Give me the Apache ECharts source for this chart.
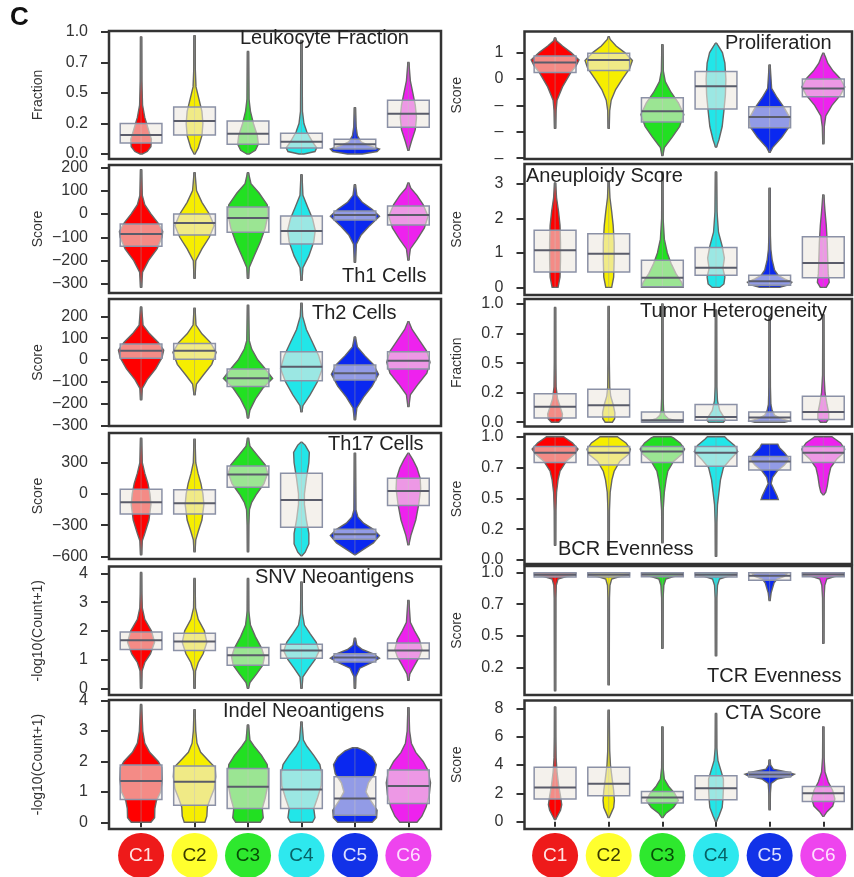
<!DOCTYPE html>
<html>
<head>
<meta charset="utf-8">
<script src="https://cdn.jsdelivr.net/npm/echarts@6/dist/echarts.min.js"></script>
<style>
  html, body { margin: 0; padding: 0; background: #fff; }
  #chart { width: 854px; height: 877px; }
</style>
</head>
<body>
<div id="chart"></div>
<script>
var clusters = ['C1', 'C2', 'C3', 'C4', 'C5', 'C6'];

// tick values + printed labels (R truncates 0.25 -> 0.2, 0.75 -> 0.7)
var fractionTicks = [0, 0.25, 0.5, 0.75, 1];
var fractionLabels = ['0.0', '0.2', '0.5', '0.7', '1.0'];
var th1Ticks = [-300, -200, -100, 0, 100, 200];
var th1Labels = ['\u2212300', '\u2212200', '\u2212100', '0', '100', '200'];
var th17Ticks = [-600, -300, 0, 300];
var th17Labels = ['\u2212600', '\u2212300', '0', '300'];
var countTicks = [0, 1, 2, 3, 4];
var countLabels = ['0', '1', '2', '3', '4'];
var prolifTicks = [-3, -2, -1, 0, 1];
var prolifLabels = ['\u2013', '\u2013', '\u2013', '0', '1'];
var aneuTicks = [0, 1, 2, 3];
var aneuLabels = ['0', '1', '2', '3'];
var tcrTicks = [0.25, 0.5, 0.75, 1];
var tcrLabels = ['0.2', '0.5', '0.7', '1.0'];
var ctaTicks = [0, 2, 4, 6, 8];
var ctaLabels = ['0', '2', '4', '6', '8'];

// violin outlines: [value, relative half width], bottom -> top
// boxes: [q1, median, q3]
var leukViolin = [
  [[0,0.05],[0.02,0.25],[0.06,0.4],[0.12,0.42],[0.2,0.3],[0.3,0.15],[0.4,0.06],[0.6,0.03],[0.96,0.02]],
  [[0,0.02],[0.05,0.15],[0.15,0.3],[0.25,0.34],[0.35,0.3],[0.45,0.18],[0.55,0.06],[0.7,0.03],[0.97,0.02]],
  [[0,0.05],[0.03,0.3],[0.08,0.42],[0.15,0.38],[0.25,0.22],[0.35,0.1],[0.45,0.04],[0.84,0.02]],
  [[0,0.1],[0.02,0.55],[0.05,0.62],[0.1,0.45],[0.18,0.22],[0.25,0.1],[0.35,0.04],[0.93,0.02]],
  [[0,0.3],[0.02,0.9],[0.04,1.0],[0.07,0.55],[0.1,0.25],[0.15,0.1],[0.22,0.05],[0.38,0.02]],
  [[0.03,0.02],[0.1,0.12],[0.2,0.28],[0.3,0.33],[0.4,0.28],[0.5,0.18],[0.6,0.08],[0.75,0.02]]
];
var leukBox = [[0.09,0.155,0.25],[0.156,0.27,0.385],[0.08,0.165,0.27],[0.05,0.1,0.17],[0.04,0.08,0.12],[0.22,0.33,0.44]];

var th1Violin = [
  [[-315,0.02],[-250,0.06],[-200,0.3],[-150,0.65],[-100,0.85],[-75,0.88],[-40,0.7],[0,0.4],[40,0.15],[80,0.05],[190,0.02]],
  [[-276,0.02],[-200,0.05],[-150,0.3],[-100,0.6],[-50,0.8],[0,0.6],[50,0.3],[100,0.08],[177,0.02]],
  [[-276,0.02],[-230,0.05],[-180,0.25],[-120,0.5],[-60,0.7],[0,0.82],[40,0.78],[90,0.45],[130,0.12],[177,0.02]],
  [[-284,0.02],[-230,0.06],[-180,0.3],[-120,0.5],[-70,0.56],[-20,0.45],[30,0.25],[80,0.06],[168,0.02]],
  [[-207,0.02],[-130,0.06],[-90,0.25],[-50,0.6],[-10,1.0],[20,0.7],[50,0.3],[80,0.08],[125,0.02]],
  [[-198,0.02],[-150,0.08],[-110,0.35],[-60,0.65],[-10,0.8],[40,0.6],[80,0.35],[110,0.1],[133,0.02]]
];
var th1Box = [[-138,-86,-43],[-90,-39,0],[-78,-17,30],[-129,-73,-9],[-26,-4,13],[-47,-4,34]];

var th2Violin = [
  [[-183,0.02],[-130,0.05],[-90,0.25],[-40,0.6],[10,0.85],[45,0.92],[80,0.7],[120,0.35],[160,0.08],[243,0.02]],
  [[-160,0.02],[-110,0.08],[-70,0.35],[-20,0.7],[35,0.88],[80,0.65],[120,0.3],[160,0.06],[238,0.02]],
  [[-266,0.02],[-230,0.08],[-180,0.3],[-130,0.6],[-85,1.0],[-40,0.7],[0,0.4],[50,0.15],[90,0.05],[252,0.02]],
  [[-238,0.02],[-210,0.06],[-160,0.35],[-100,0.65],[-40,0.85],[20,0.7],[80,0.45],[140,0.2],[200,0.05],[261,0.02]],
  [[-275,0.02],[-220,0.08],[-170,0.35],[-120,0.7],[-65,0.96],[-20,0.75],[20,0.4],[60,0.1],[106,0.02]],
  [[-214,0.02],[-160,0.08],[-110,0.4],[-60,0.75],[-10,0.88],[40,0.75],[90,0.45],[140,0.15],[176,0.02]]
];
var th2Box = [[8,43,73],[3,43,76],[-122,-84,-41],[-95,-31,38],[-92,-61,-23],[-41,-3,38]];

var th17Violin = [
  [[-584,0.02],[-450,0.05],[-380,0.15],[-250,0.32],[-100,0.4],[0,0.36],[100,0.28],[200,0.15],[300,0.05],[536,0.02]],
  [[-555,0.02],[-440,0.05],[-360,0.15],[-250,0.3],[-100,0.38],[0,0.34],[100,0.26],[200,0.14],[300,0.05],[527,0.02]],
  [[-555,0.02],[-300,0.03],[-150,0.06],[-80,0.15],[0,0.35],[100,0.65],[200,0.8],[280,0.7],[380,0.35],[460,0.08],[536,0.02]],
  [[-594,0.02],[-560,0.15],[-480,0.3],[-380,0.3],[-250,0.2],[-100,0.12],[0,0.12],[150,0.2],[300,0.3],[400,0.32],[470,0.15],[498,0.02]],
  [[-584,0.02],[-540,0.3],[-470,0.75],[-400,1.0],[-340,0.75],[-280,0.35],[-220,0.12],[-150,0.04],[393,0.02]],
  [[-489,0.02],[-400,0.1],[-250,0.3],[-100,0.42],[50,0.5],[150,0.48],[250,0.35],[330,0.18],[393,0.02]]
];
var th17Box = [[-192,-80,45],[-192,-89,41],[64,188,268],[-319,-57,198],[-434,-386,-338],[-112,29,150]];

var snvViolin = [
  [[0,0.02],[0.6,0.04],[0.9,0.15],[1.2,0.38],[1.6,0.55],[2.0,0.42],[2.4,0.15],[2.8,0.05],[3.3,0.03],[4.03,0.02]],
  [[0,0.02],[0.6,0.04],[0.9,0.15],[1.2,0.35],[1.6,0.5],[2.0,0.4],[2.4,0.15],[2.8,0.04],[3.82,0.02]],
  [[0,0.02],[0.2,0.08],[0.5,0.35],[0.8,0.6],[1.1,0.67],[1.4,0.55],[1.8,0.3],[2.2,0.1],[2.7,0.03],[3.82,0.02]],
  [[0,0.02],[0.4,0.06],[0.7,0.3],[1.0,0.55],[1.3,0.72],[1.6,0.6],[1.9,0.35],[2.2,0.12],[2.6,0.04],[3.7,0.02]],
  [[0,0.02],[0.4,0.04],[0.7,0.2],[0.9,0.7],[1.05,1.0],[1.2,0.75],[1.35,0.3],[1.5,0.08],[1.74,0.02]],
  [[0.28,0.02],[0.5,0.06],[0.8,0.25],[1.1,0.45],[1.35,0.55],[1.7,0.45],[2.0,0.25],[2.3,0.08],[3.06,0.02]]
];
var snvBox = [[1.35,1.67,1.96],[1.32,1.63,1.92],[0.8,1.15,1.42],[1.05,1.32,1.53],[0.92,1.07,1.2],[1.03,1.32,1.58]];

var indelViolin = [
  [[0,0.4],[0.15,0.55],[0.45,0.56],[0.7,0.62],[1.0,0.8],[1.4,0.86],[1.8,0.84],[2.0,0.7],[2.3,0.35],[2.6,0.15],[3.0,0.07],[3.87,0.02]],
  [[0,0.42],[0.2,0.5],[0.5,0.52],[0.8,0.65],[1.1,0.8],[1.5,0.86],[1.8,0.84],[2.0,0.6],[2.3,0.25],[2.6,0.1],[3.0,0.05],[3.7,0.02]],
  [[0,0.5],[0.15,0.62],[0.45,0.58],[0.8,0.7],[1.2,0.8],[1.6,0.82],[1.9,0.78],[2.2,0.55],[2.5,0.25],[2.7,0.08],[3.2,0.02]],
  [[0,0.45],[0.15,0.55],[0.45,0.5],[0.8,0.65],[1.2,0.8],[1.6,0.82],[1.9,0.75],[2.2,0.5],[2.5,0.22],[2.7,0.08],[3.3,0.02]],
  [[0,0.7],[0.15,0.88],[0.4,0.9],[0.7,0.65],[1.0,0.45],[1.3,0.55],[1.6,0.8],[1.9,0.87],[2.15,0.7],[2.35,0.4],[2.45,0.1]],
  [[0,0.35],[0.2,0.55],[0.5,0.72],[0.9,0.85],[1.3,0.9],[1.7,0.8],[2.0,0.6],[2.3,0.3],[2.6,0.12],[3.0,0.05],[3.77,0.02]]
];
var indelBox = [[0.75,1.36,1.88],[0.56,1.33,1.85],[0.45,1.17,1.77],[0.45,1.08,1.72],[0.23,0.78,1.5],[0.62,1.19,1.72]];

var prolifViolin = [
  [[-1.87,0.02],[-1.2,0.04],[-0.8,0.08],[-0.3,0.3],[0.23,0.63],[0.5,0.85],[0.72,0.97],[1.0,0.65],[1.25,0.3],[1.45,0.06],[1.56,0.02]],
  [[-1.87,0.02],[-1.2,0.04],[-0.8,0.1],[-0.4,0.28],[0,0.55],[0.4,0.85],[0.7,0.96],[1.0,0.65],[1.25,0.3],[1.5,0.06],[1.6,0.02]],
  [[-2.9,0.02],[-2.6,0.08],[-2.2,0.4],[-1.8,0.7],[-1.35,0.87],[-0.9,0.65],[-0.5,0.35],[-0.1,0.12],[0.3,0.04],[1.3,0.02]],
  [[-2.58,0.02],[-2.3,0.12],[-1.8,0.25],[-1.2,0.32],[-0.6,0.38],[0,0.4],[0.6,0.36],[1.0,0.26],[1.25,0.1],[1.36,0.02]],
  [[-2.78,0.02],[-2.6,0.12],[-2.2,0.5],[-1.8,0.8],[-1.5,0.84],[-1.1,0.6],[-0.7,0.3],[-0.35,0.08],[0.53,0.02]],
  [[-2.45,0.02],[-1.8,0.04],[-1.4,0.1],[-1.0,0.35],[-0.6,0.7],[-0.3,0.87],[0,0.7],[0.3,0.4],[0.6,0.18],[0.85,0.08],[0.98,0.02]]
];
var prolifBox = [[0.25,0.63,0.87],[0.32,0.72,0.98],[-1.63,-1.22,-0.71],[-1.14,-0.27,0.28],[-1.85,-1.44,-1.05],[-0.67,-0.36,0]];

var aneuViolin = [
  [[0,0.12],[0.3,0.2],[0.8,0.22],[1.3,0.22],[1.8,0.2],[2.2,0.14],[2.6,0.06],[3.03,0.02]],
  [[0,0.12],[0.3,0.2],[0.8,0.22],[1.3,0.22],[1.8,0.18],[2.2,0.12],[2.6,0.05],[3.06,0.02]],
  [[0,0.84],[0.15,0.78],[0.4,0.55],[0.7,0.35],[1.0,0.2],[1.4,0.08],[2.0,0.03],[3.35,0.02]],
  [[0,0.15],[0.1,0.32],[0.3,0.36],[0.55,0.28],[0.85,0.34],[1.2,0.25],[1.6,0.1],[2.2,0.04],[3.35,0.02]],
  [[0,0.4],[0.08,0.8],[0.15,0.9],[0.25,0.6],[0.35,0.35],[0.5,0.2],[0.8,0.1],[1.1,0.05],[1.5,0.03],[2.88,0.02]],
  [[0,0.12],[0.15,0.24],[0.4,0.2],[0.8,0.18],[1.3,0.16],[1.8,0.12],[2.2,0.07],[2.68,0.02]]
];
var aneuBox = [[0.45,1.08,1.66],[0.45,0.98,1.56],[0.02,0.28,0.79],[0.35,0.57,1.16],[0.06,0.18,0.35],[0.28,0.71,1.47]];

var heteroViolin = [
  [[0,0.15],[0.03,0.28],[0.07,0.3],[0.12,0.22],[0.2,0.1],[0.3,0.04],[0.5,0.025],[0.97,0.02]],
  [[0,0.15],[0.03,0.24],[0.08,0.25],[0.15,0.18],[0.22,0.08],[0.3,0.04],[0.5,0.025],[0.98,0.02]],
  [[0,0.85],[0.01,0.6],[0.03,0.25],[0.06,0.1],[0.1,0.05],[0.2,0.03],[1.0,0.02]],
  [[0,0.3],[0.02,0.38],[0.05,0.3],[0.1,0.15],[0.18,0.06],[0.3,0.03],[0.95,0.02]],
  [[0,0.6],[0.01,0.8],[0.03,0.45],[0.06,0.2],[0.1,0.1],[0.15,0.05],[0.3,0.03],[0.89,0.02]],
  [[0,0.12],[0.03,0.22],[0.08,0.22],[0.15,0.15],[0.25,0.07],[0.4,0.03],[0.91,0.02]]
];
var heteroBox = [[0.036,0.13,0.24],[0.045,0.144,0.28],[0.002,0.017,0.087],[0.017,0.045,0.15],[0.008,0.04,0.087],[0.023,0.087,0.22]];

var bcrViolin = [
  [[0.12,0.02],[0.4,0.03],[0.55,0.06],[0.65,0.12],[0.72,0.2],[0.8,0.45],[0.86,0.8],[0.9,0.93],[0.95,0.7],[0.99,0.42],[1.0,0.35]],
  [[0.04,0.02],[0.4,0.03],[0.55,0.06],[0.65,0.13],[0.72,0.22],[0.8,0.45],[0.86,0.82],[0.9,0.88],[0.95,0.7],[0.99,0.42],[1.0,0.35]],
  [[0.14,0.02],[0.4,0.03],[0.55,0.08],[0.65,0.15],[0.72,0.22],[0.8,0.45],[0.86,0.8],[0.9,0.9],[0.95,0.72],[0.99,0.45],[1.0,0.35]],
  [[0.03,0.02],[0.3,0.03],[0.45,0.06],[0.55,0.12],[0.65,0.18],[0.75,0.3],[0.82,0.6],[0.88,0.88],[0.93,0.75],[0.98,0.45],[1.0,0.35]],
  [[0.49,0.35],[0.52,0.3],[0.57,0.18],[0.62,0.06],[0.67,0.12],[0.72,0.3],[0.77,0.6],[0.82,0.8],[0.87,0.6],[0.91,0.4],[0.94,0.33]],
  [[0.53,0.02],[0.55,0.1],[0.6,0.16],[0.68,0.22],[0.75,0.3],[0.82,0.55],[0.87,0.82],[0.9,0.87],[0.95,0.7],[0.99,0.42],[1.0,0.35]]
];
var bcrBox = [[0.79,0.87,0.92],[0.77,0.87,0.92],[0.79,0.88,0.92],[0.76,0.87,0.92],[0.73,0.8,0.84],[0.79,0.87,0.92]];

var tcrViolin = [
  [[0.064,0.02],[0.8,0.03],[0.9,0.05],[0.95,0.12],[0.97,0.45],[0.98,0.84],[0.995,0.84],[1.0,0.6]],
  [[0.11,0.02],[0.8,0.03],[0.9,0.05],[0.95,0.12],[0.97,0.45],[0.98,0.84],[0.995,0.84],[1.0,0.6]],
  [[0.4,0.02],[0.8,0.03],[0.9,0.06],[0.95,0.14],[0.97,0.45],[0.98,0.84],[0.995,0.84],[1.0,0.6]],
  [[0.34,0.02],[0.8,0.03],[0.9,0.06],[0.95,0.14],[0.97,0.45],[0.98,0.84],[0.995,0.84],[1.0,0.6]],
  [[0.78,0.02],[0.84,0.06],[0.88,0.12],[0.92,0.18],[0.95,0.3],[0.97,0.6],[0.99,0.7],[1.0,0.5]],
  [[0.44,0.02],[0.8,0.03],[0.9,0.06],[0.95,0.14],[0.97,0.45],[0.98,0.84],[0.995,0.84],[1.0,0.6]]
];
var tcrBox = [[0.966,0.984,1.0],[0.966,0.984,1.0],[0.968,0.985,1.0],[0.966,0.984,1.0],[0.94,0.976,1.0],[0.968,0.985,1.0]];

var ctaViolin = [
  [[0.14,0.02],[0.4,0.1],[0.8,0.22],[1.2,0.27],[1.8,0.22],[2.5,0.15],[3.5,0.08],[4.5,0.04],[6,0.025],[8.09,0.02]],
  [[0.28,0.02],[0.6,0.1],[1.0,0.2],[1.5,0.23],[2.2,0.2],[3.0,0.14],[4.0,0.07],[5,0.04],[7.86,0.02]],
  [[0.28,0.02],[0.6,0.15],[1.0,0.45],[1.5,0.65],[2.0,0.5],[2.5,0.25],[3.0,0.08],[3.8,0.03],[6.69,0.02]],
  [[0,0.02],[0.4,0.12],[1.0,0.25],[1.6,0.28],[2.3,0.3],[3.0,0.3],[3.6,0.2],[4.3,0.08],[5.2,0.03],[7.63,0.02]],
  [[0.84,0.02],[2.0,0.03],[2.7,0.06],[3.0,0.3],[3.2,0.85],[3.35,1.0],[3.5,0.7],[3.7,0.15],[4.0,0.04],[4.35,0.02]],
  [[0.37,0.02],[0.7,0.15],[1.1,0.38],[1.6,0.47],[2.2,0.38],[2.8,0.2],[3.5,0.07],[4.5,0.03],[6.69,0.02]]
];
var ctaBox = [[1.59,2.41,3.84],[1.82,2.67,3.84],[1.31,1.71,2.13],[1.54,2.36,3.23],[3.15,3.32,3.5],[1.42,2.01,2.48]];

// ---- styling / layout ----
var FONT = 'Liberation Sans, Arial, Helvetica, sans-serif';
var violinColors = ['#ff0000', '#f6ee00', '#22e022', '#22e6e8', '#0a28f0', '#ee22ee'];
var circleColors = ['#ee1a1a', '#ffff2e', '#2ee82e', '#2ee8ee', '#1232e8', '#ee44ee'];
var circleText = ['#ffe4e4', '#3a3a00', '#064d06', '#076266', '#dde0ff', '#ffe0ff'];
var VW = 0.46;   // violin half width (x units) for relative width 1
var BW = 0.39;   // box half width

var cols = [
  { left: 109, width: 332, xmin: 0.40, xmax: 6.61, gap: 64 },
  { left: 524.5, width: 327.5, xmin: 0.43, xmax: 6.535, gap: 60 }
];

var panels = [
  { col: 0, top: 31, bottom: 159, min: -0.041, max: 1.008, name: 'Fraction', title: 'Leukocyte Fraction', tx: 240, ty: 28, violin: leukViolin, box: leukBox, ticks: fractionTicks, labels: fractionLabels },
  { col: 0, top: 165, bottom: 293, min: -339, max: 210, name: 'Score', title: 'Th1 Cells', tx: 342, ty: 266, violin: th1Violin, box: th1Box, ticks: th1Ticks, labels: th1Labels },
  { col: 0, top: 299, bottom: 426, min: -303, max: 280, name: 'Score', title: 'Th2 Cells', tx: 312, ty: 303, violin: th2Violin, box: th2Box, ticks: th1Ticks, labels: th1Labels },
  { col: 0, top: 433, bottom: 559, min: -625, max: 586, name: 'Score', title: 'Th17 Cells', tx: 328, ty: 434, violin: th17Violin, box: th17Box, ticks: th17Ticks, labels: th17Labels },
  { col: 0, top: 566.5, bottom: 695, min: -0.233, max: 4.24, name: '-log10(Count+1)', title: 'SNV Neoantigens', tx: 255, ty: 567, violin: snvViolin, box: snvBox, ticks: countTicks, labels: countLabels },
  { col: 0, top: 700, bottom: 829, min: -0.22, max: 4.02, name: '-log10(Count+1)', title: 'Indel Neoantigens', tx: 223, ty: 701, violin: indelViolin, box: indelBox, ticks: countTicks, labels: countLabels, axis: true },
  { col: 1, top: 31.5, bottom: 159, min: -3.03, max: 1.8, name: 'Score', title: 'Proliferation', tx: 725, ty: 33, violin: prolifViolin, box: prolifBox, ticks: prolifTicks, labels: prolifLabels },
  { col: 1, top: 164, bottom: 295, min: -0.22, max: 3.58, name: 'Score', title: 'Aneuploidy Score', tx: 526, ty: 166, violin: aneuViolin, box: aneuBox, ticks: aneuTicks, labels: aneuLabels },
  { col: 1, top: 299, bottom: 426.5, min: -0.036, max: 1.042, name: 'Fraction', title: 'Tumor Heterogeneity', tx: 640, ty: 301, violin: heteroViolin, box: heteroBox, ticks: fractionTicks, labels: fractionLabels },
  { col: 1, top: 434, bottom: 564, min: -0.032, max: 1.022, name: 'Score', title: 'BCR Evenness', tx: 558, ty: 539, violin: bcrViolin, box: bcrBox, ticks: fractionTicks, labels: fractionLabels },
  { col: 1, top: 566, bottom: 695, min: 0.03, max: 1.053, name: 'Score', title: 'TCR Evenness', tx: 707, ty: 666, violin: tcrViolin, box: tcrBox, ticks: tcrTicks, labels: tcrLabels },
  { col: 1, top: 700.5, bottom: 829, min: -0.52, max: 8.55, name: 'Score', title: 'CTA Score', tx: 725, ty: 703, violin: ctaViolin, box: ctaBox, ticks: ctaTicks, labels: ctaLabels, axis: true }
];

function violinRenderer(violins) {
  return function (params, api) {
    var i = params.dataIndex;
    var x = api.value(0);
    var prof = violins[i];
    var pts = [], k;
    for (k = 0; k < prof.length; k++) pts.push(api.coord([x - prof[k][1] * VW, prof[k][0]]));
    for (k = prof.length - 1; k >= 0; k--) pts.push(api.coord([x + prof[k][1] * VW, prof[k][0]]));
    var lo = api.coord([x, prof[0][0]]);
    var hi = api.coord([x, prof[prof.length - 1][0]]);
    var bTop = api.coord([x - BW, api.value(3)]);
    var bBot = api.coord([x + BW, api.value(1)]);
    var mL = api.coord([x - BW, api.value(2)]);
    var mR = api.coord([x + BW, api.value(2)]);
    return {
      type: 'group',
      children: [
        { type: 'line', shape: { x1: lo[0], y1: lo[1], x2: hi[0], y2: hi[1] }, style: { stroke: '#636363', lineWidth: 2.6 } },
        { type: 'polygon', shape: { points: pts }, style: { fill: violinColors[i], stroke: '#666', lineWidth: 1.4 } },
        { type: 'line', shape: { x1: lo[0], y1: lo[1], x2: hi[0], y2: hi[1] }, style: { stroke: 'rgba(150,150,150,0.5)', lineWidth: 1 } },
        { type: 'rect', shape: { x: bTop[0], y: bTop[1], width: bBot[0] - bTop[0], height: bBot[1] - bTop[1] },
          style: { fill: 'rgba(236,232,224,0.6)', stroke: '#8b91a6', lineWidth: 1.5 } },
        { type: 'line', shape: { x1: mL[0], y1: mL[1], x2: mR[0], y2: mR[1] }, style: { stroke: '#5a5c6a', lineWidth: 2 } }
      ]
    };
  };
}

var circleRich = {};
clusters.forEach(function (c, i) {
  circleRich['c' + i] = {
    backgroundColor: circleColors[i], color: circleText[i], width: 46, height: 45, lineHeight: 45,
    borderRadius: 23, align: 'center', fontSize: 19, fontFamily: FONT
  };
});

var grids = [], xAxes = [], yAxes = [], series = [], titles = [];
panels.forEach(function (p, g) {
  var c = cols[p.col];
  grids.push({ left: c.left, top: p.top, width: c.width, height: p.bottom - p.top, show: true,
    borderColor: '#333', borderWidth: 2.5, backgroundColor: 'transparent', containLabel: false, outerBoundsMode: 'none' });
  xAxes.push({
    gridIndex: g, type: 'value', min: c.xmin, max: c.xmax, show: !!p.axis,
    axisLine: { show: false }, splitLine: { show: false },
    axisTick: { show: true, customValues: [1, 2, 3, 4, 5, 6], length: 5, lineStyle: { color: '#333', width: 2 } },
    axisLabel: { show: true, customValues: [1, 2, 3, 4, 5, 6], margin: 4,
      formatter: function (v) { var i = Math.round(v) - 1; return '{c' + i + '|' + clusters[i] + '}'; },
      rich: circleRich }
  });
  yAxes.push({
    gridIndex: g, type: 'value', min: p.min, max: p.max,
    name: p.name, nameLocation: 'middle', nameGap: c.gap, nameRotate: 90,
    nameTextStyle: { fontSize: 14, color: '#333', fontFamily: FONT },
    axisLine: { show: false }, splitLine: { show: false },
    axisTick: { show: true, customValues: p.ticks, length: 8, lineStyle: { color: '#333', width: 2 } },
    axisLabel: { customValues: p.ticks, fontSize: 16, color: '#333', margin: 21, fontFamily: FONT,
      formatter: function (v) {
        for (var k = 0; k < p.ticks.length; k++) if (Math.abs(v - p.ticks[k]) < 1e-9) return p.labels[k];
        return '';
      } }
  });
  series.push({
    type: 'custom', xAxisIndex: g, yAxisIndex: g, clip: false, silent: true,
    renderItem: violinRenderer(p.violin),
    encode: { x: 0, y: [1, 2, 3] },
    data: p.box.map(function (b, i) { return [i + 1, b[0], b[1], b[2]]; })
  });
  titles.push({ text: p.title, left: p.tx, top: p.ty, padding: 0,
    textStyle: { fontSize: 20, fontWeight: 'normal', color: '#222', fontFamily: FONT } });
});

var chart = echarts.init(document.getElementById('chart'), null, { renderer: 'canvas' });
chart.setOption({
  animation: false,
  backgroundColor: '#fff',
  title: titles,
  grid: grids,
  xAxis: xAxes,
  yAxis: yAxes,
  series: series,
  graphic: [{ type: 'text', left: 10, top: 5, style: { text: 'C', font: 'bold 26px ' + FONT, fill: '#111' } }]
});
</script>
</body>
</html>
